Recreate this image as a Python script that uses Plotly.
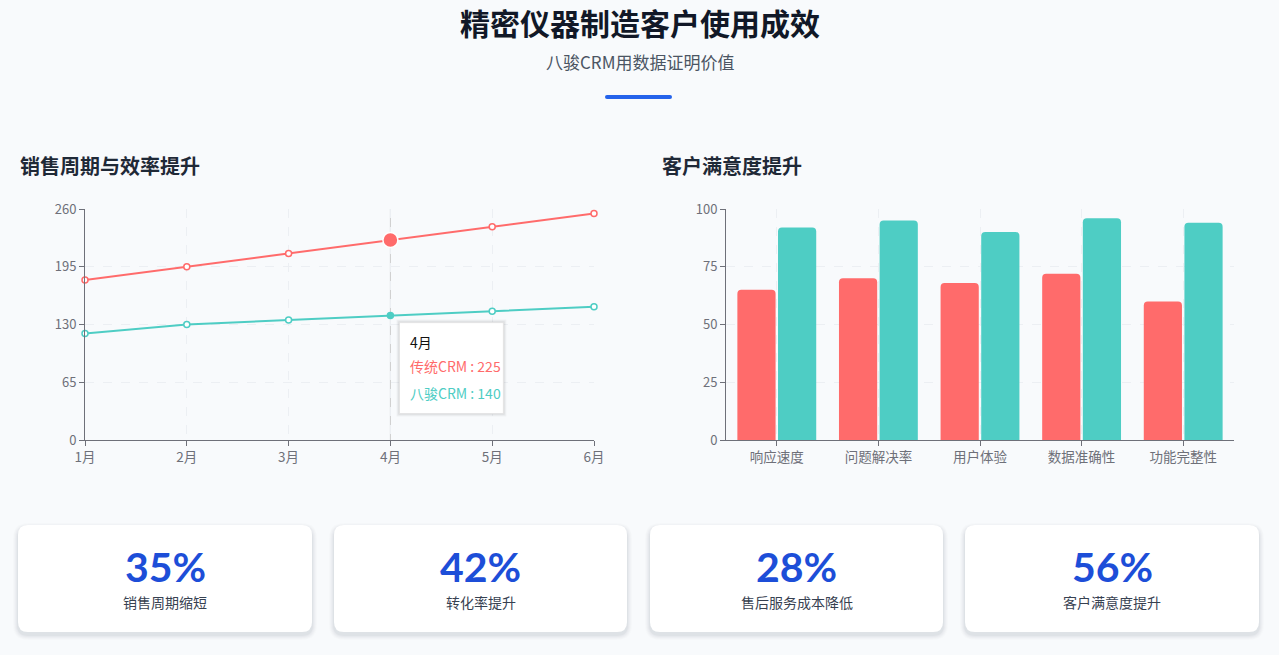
import plotly.graph_objects as go

# ---------------- data ----------------
months = ["1月", "2月", "3月", "4月", "5月", "6月"]
traditional_crm = [180, 195, 210, 225, 240, 255]
bajun_crm = [120, 130, 135, 140, 145, 150]
line_ticks = [0, 65, 130, 195, 260]

sat_categories = ["响应速度", "问题解决率", "用户体验", "数据准确性", "功能完整性"]
sat_traditional = [65, 70, 68, 72, 60]
sat_bajun = [92, 95, 90, 96, 94]
bar_ticks = [0, 25, 50, 75, 100]

series_names = ["传统CRM", "八骏CRM"]
highlight_index = 3

kpi_values = ["35%", "42%", "28%", "56%"]
kpi_labels = ["销售周期缩短", "转化率提升", "售后服务成本降低", "客户满意度提升"]

title_text = "精密仪器制造客户使用成效"
subtitle_text = "八骏CRM用数据证明价值"
left_title = "销售周期与效率提升"
right_title = "客户满意度提升"

# ---------------- style ----------------
W, H = 1279, 655
FONT = "Noto Sans CJK SC"
RED = "#ff6b6b"
TEAL = "#4ecdc4"
BG = "#f8fafc"
AXIS = "#6e7079"
GRID = "#eceff3"


def px(x):
    return x / W


def py(y):
    return 1 - y / H


def rrect_px(x0, y0, x1, y1, r):
    rx, ry = r / W, r / H
    X0, X1 = px(x0), px(x1)
    Y0, Y1 = py(y1), py(y0)
    return (f"M{X0 + rx},{Y0} L{X1 - rx},{Y0} Q{X1},{Y0} {X1},{Y0 + ry} "
            f"L{X1},{Y1 - ry} Q{X1},{Y1} {X1 - rx},{Y1} L{X0 + rx},{Y1} "
            f"Q{X0},{Y1} {X0},{Y1 - ry} L{X0},{Y0 + ry} Q{X0},{Y0} {X0 + rx},{Y0} Z")


fig = go.Figure()

n = len(months)
sizes_red = [15 if i == highlight_index else 6 for i in range(n)]
fill_red = [RED if i == highlight_index else "white" for i in range(n)]
edge_red = ["white" if i == highlight_index else RED for i in range(n)]
sizes_teal = [6 for _ in range(n)]
fill_teal = [TEAL if i == highlight_index else "white" for i in range(n)]

fig.add_trace(go.Scatter(
    x=months, y=traditional_crm, name=series_names[0], mode="lines+markers",
    line=dict(color=RED, width=2),
    marker=dict(size=sizes_red, color=fill_red, opacity=1, line=dict(color=edge_red, width=1.5)),
    cliponaxis=False, xaxis="x", yaxis="y", showlegend=False, hoverinfo="skip"))
fig.add_trace(go.Scatter(
    x=months, y=bajun_crm, name=series_names[1], mode="lines+markers",
    line=dict(color=TEAL, width=2),
    marker=dict(size=sizes_teal, color=fill_teal, opacity=1, line=dict(color=TEAL, width=1.5)),
    cliponaxis=False, xaxis="x", yaxis="y", showlegend=False, hoverinfo="skip"))

fig.add_trace(go.Bar(
    x=sat_categories, y=sat_traditional, name=series_names[0],
    marker=dict(color=RED, cornerradius=4, line=dict(width=0)), xaxis="x2", yaxis="y2",
    showlegend=False, hoverinfo="skip"))
fig.add_trace(go.Bar(
    x=sat_categories, y=sat_bajun, name=series_names[1],
    marker=dict(color=TEAL, cornerradius=4, line=dict(width=0)), xaxis="x2", yaxis="y2",
    showlegend=False, hoverinfo="skip"))

ydom = [py(440), py(209)]
axis_common = dict(
    showline=True, linecolor=AXIS, linewidth=1, ticks="outside", ticklen=5,
    tickcolor=AXIS, tickfont=dict(family=FONT, size=13, color=AXIS),
    showgrid=True, gridcolor=GRID, griddash="dash", zeroline=False, automargin=False)

fig.update_layout(
    width=W, height=H, autosize=False,
    margin=dict(l=0, r=0, t=0, b=0, pad=0, autoexpand=False),
    paper_bgcolor=BG, plot_bgcolor=BG,
    font=dict(family=FONT),
    barmode="group", bargap=0.2, bargroupgap=0.06,
    xaxis=dict(domain=[px(85), px(594)], type="category",
               range=[0, n - 1], anchor="y", **axis_common),
    yaxis=dict(domain=ydom, range=[0, line_ticks[-1]], tickvals=line_ticks,
               anchor="x", **axis_common),
    xaxis2=dict(domain=[px(726), px(1234)], type="category", anchor="y2",
                **axis_common),
    yaxis2=dict(domain=ydom, range=[0, bar_ticks[-1]], tickvals=bar_ticks,
                anchor="x2", **axis_common),
)
fig.update_xaxes(tickfont=dict(size=13.5))

shapes = []
annotations = []

annotations.append(dict(x=px(639.5), y=py(22), xref="paper", yref="paper", text=f"<b>{title_text}</b>",
                        showarrow=False, font=dict(family=FONT, size=30, color="#111827"),
                        xanchor="center", yanchor="middle"))
annotations.append(dict(x=px(639.5), y=py(62), xref="paper", yref="paper", text=subtitle_text,
                        showarrow=False, font=dict(family=FONT, size=17, color="#4b5563"),
                        xanchor="center", yanchor="middle"))
shapes.append(dict(type="path", xref="paper", yref="paper", layer="above",
                   path=rrect_px(605, 95, 672, 99, 2),
                   fillcolor="#2563eb", line=dict(width=0)))

annotations.append(dict(x=px(18), y=py(166), xref="paper", yref="paper", text=f"<b>{left_title}</b>",
                        showarrow=False, font=dict(family=FONT, size=20, color="#1f2937"),
                        xanchor="left", yanchor="middle"))
annotations.append(dict(x=px(660), y=py(166), xref="paper", yref="paper", text=f"<b>{right_title}</b>",
                        showarrow=False, font=dict(family=FONT, size=20, color="#1f2937"),
                        xanchor="left", yanchor="middle"))

hx = months[highlight_index]
shapes.append(dict(type="line", xref="x", yref="y domain", x0=hx, x1=hx, y0=0, y1=1,
                   layer="below", line=dict(color="#cccccc", width=1)))

hy = bajun_crm[highlight_index]
for off, op in [(3, 0.03), (2, 0.04), (1, 0.05)]:
    shapes.append(dict(type="rect", xref="x", yref="y", xsizemode="pixel", ysizemode="pixel",
                       xanchor=hx, yanchor=hy, x0=9 - off, x1=113 + off, y0=-7 + off, y1=-98 - off,
                       fillcolor=f"rgba(0,0,0,{op})", line=dict(width=0), layer="above"))
shapes.append(dict(type="rect", xref="x", yref="y", xsizemode="pixel", ysizemode="pixel",
                   xanchor=hx, yanchor=hy, x0=9, x1=113, y0=-7, y1=-98,
                   fillcolor="white", line=dict(color="#e3e3e3", width=1), layer="above"))
tip_lines = [
    (months[highlight_index], "#111111", -26),
    (f"{series_names[0]} : {traditional_crm[highlight_index]}", RED, -50),
    (f"{series_names[1]} : {bajun_crm[highlight_index]}", TEAL, -77),
]
for txt, col, dy in tip_lines:
    annotations.append(dict(x=hx, y=hy, xref="x", yref="y", text=txt, showarrow=False,
                            xanchor="left", yanchor="middle", xshift=18, yshift=dy,
                            font=dict(family=FONT, size=14, color=col)))

cards_x = [(18, 312), (334, 627), (650, 943), (965, 1259)]
cy0, cy1 = 525, 632
for (x0, x1), val, lab in zip(cards_x, kpi_values, kpi_labels):
    for grow, op in [(5, 0.012), (4, 0.015), (3, 0.02), (2, 0.025), (1, 0.03)]:
        shapes.append(dict(type="path", xref="paper", yref="paper", layer="below",
                           path=rrect_px(x0 - grow, cy0 - grow + 3, x1 + grow, cy1 + grow + 3, 10 + grow),
                           fillcolor=f"rgba(15,23,42,{op})", line=dict(width=0)))
    shapes.append(dict(type="path", xref="paper", yref="paper", layer="below",
                       path=rrect_px(x0, cy0, x1, cy1, 10),
                       fillcolor="white", line=dict(width=0)))
    cx = px((x0 + x1) / 2)
    annotations.append(dict(x=cx, y=py(566), xref="paper", yref="paper", text=f"<b>{val}</b>",
                            showarrow=False, font=dict(family="Lato", size=41, color="#1d4ed8"),
                            xanchor="center", yanchor="middle"))
    annotations.append(dict(x=cx, y=py(602), xref="paper", yref="paper", text=lab,
                            showarrow=False, font=dict(family=FONT, size=14, color="#374151"),
                            xanchor="center", yanchor="middle"))

fig.update_layout(shapes=shapes, annotations=annotations)

post = (f"document.documentElement.style.margin='0';document.body.style.margin='0';"
        f"document.body.style.overflow='hidden';document.body.style.background='{BG}';")
fig.write_html("out.html", config={"displayModeBar": False}, post_script=post)
